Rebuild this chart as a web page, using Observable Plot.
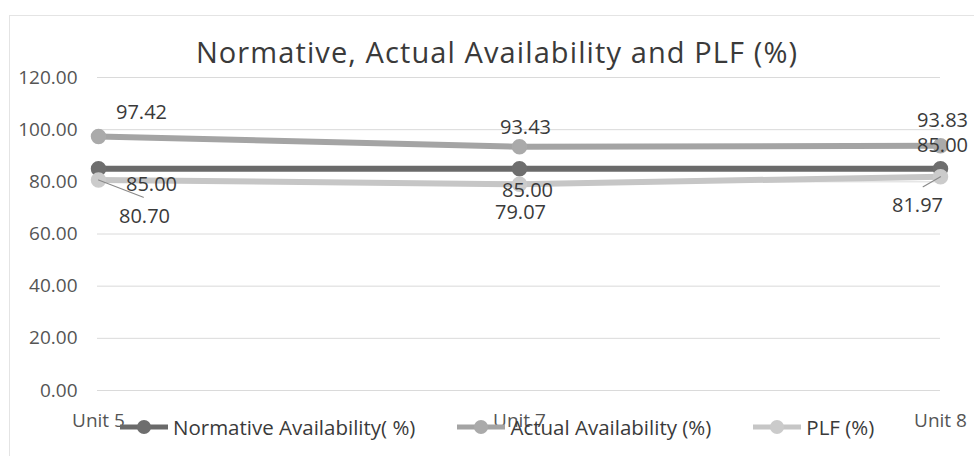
<!DOCTYPE html>
<html>
<head>
<meta charset="utf-8">
<script src="https://cdn.jsdelivr.net/npm/d3@7"></script>
<script src="https://cdn.jsdelivr.net/npm/@observablehq/plot@0.6"></script>
<style>
  html, body { margin: 0; padding: 0; background: #fff; }
  #wrap { position: relative; width: 974px; height: 456px; overflow: hidden; background: #fff; font-family: "Open Sans", sans-serif; }
  #border { position: absolute; left: 9px; top: 15px; width: 980px; height: 460px; border-left: 1px solid #e4e4e4; border-top: 1px solid #e4e4e4; }
  #title { position: absolute; left: 0; width: 994px; top: 32px; text-align: center; font-size: 29px; letter-spacing: 1.1px; color: #3a3a3a; white-space: nowrap; line-height: normal; }
  #chart { position: absolute; left: 0; top: 0; }
  #legend { position: absolute; left: 118px; top: 413px; display: flex; gap: 40px; align-items: center; font-size: 20.5px; color: #3a3a3a; white-space: nowrap; }
  #legend .item { display: flex; align-items: center; gap: 3px; }
</style>
</head>
<body>
<div id="wrap">
  <div id="border"></div>
  <div id="chart"></div>
  <div id="title"></div>
  <div id="legend"></div>
</div>
<script>
// ---- data ----
const units = ["Unit 5", "Unit 7", "Unit 8"];
const normative = [85.00, 85.00, 85.00];
const actual = [97.42, 93.43, 93.83];
const plf = [80.70, 79.07, 81.97];
const seriesNames = ["Normative Availability( %)", "Actual Availability (%)", "PLF (%)"];
const yTicks = [0, 20, 40, 60, 80, 100, 120];
const titleText = "Normative, Actual Availability and PLF (%)";

// ---- styles (not data) ----
const colors = {"Normative Availability( %)": "#6a6a6a", "Actual Availability (%)": "#a4a4a4", "PLF (%)": "#c6c6c6"};
const dotColors = {"Normative Availability( %)": "#6e6e6e", "Actual Availability (%)": "#aaaaaa", "PLF (%)": "#cbcbcb"};
// label offsets [dx, dy] per series per unit
const labelOffsets = {
  "Normative Availability( %)": [[53, 16], [8, 22], [2, -23]],
  "Actual Availability (%)": [[43, -24], [6, -19], [2, -25]],
  "PLF (%)": [[46, 37], [1, 28], [-23, 29]]
};

const valuesBySeries = [normative, actual, plf];
const rows = [];
seriesNames.forEach((s, si) => {
  units.forEach((u, i) => rows.push({series: s, unit: u, value: valuesBySeries[si][i], idx: i}));
});

document.getElementById("title").textContent = titleText;

const marks = [
  Plot.gridY(yTicks, {stroke: "#dadada", strokeOpacity: 1, strokeWidth: 1}),
  Plot.axisY({ticks: yTicks, tickFormat: d3.format(".2f"), tickSize: 0, tickPadding: 20, fontSize: 19, fill: "#555", label: null}),
  Plot.axisX({tickSize: 0, tickPadding: 23, fontSize: 19, fill: "#555", label: null})
];
seriesNames.forEach(s => {
  const d = rows.filter(r => r.series === s);
  marks.push(Plot.line(d, {x: "unit", y: "value", stroke: colors[s], strokeWidth: 6, strokeLinecap: "round"}));
});
seriesNames.forEach(s => {
  const d = rows.filter(r => r.series === s);
  marks.push(Plot.dot(d, {x: "unit", y: "value", r: 7, fill: dotColors[s], stroke: dotColors[s]}));
});
// leader lines for PLF labels at Unit 5 and Unit 8
const leader = {draw(ctx, l) { ctx.moveTo(0, 0); ctx.lineTo(0, -l); }};
const plfRows = rows.filter(r => r.series === "PLF (%)");
marks.push(Plot.vector([plfRows[0]], {x: "unit", y: "value", length: 48, rotate: 111, anchor: "start", shape: leader, stroke: "#8a8a8a", strokeWidth: 1.2}));
marks.push(Plot.vector([plfRows[2]], {x: "unit", y: "value", length: 20, rotate: 240, anchor: "start", shape: leader, stroke: "#8a8a8a", strokeWidth: 1.2}));
// data labels
rows.forEach(r => {
  const [dx, dy] = labelOffsets[r.series][r.idx];
  marks.push(Plot.text([r], {x: "unit", y: "value", text: d => d3.format(".2f")(d.value), dx, dy, fontSize: 20, fill: "#3a3a3a"}));
});

const chart = Plot.plot({
  width: 974,
  height: 456,
  marginLeft: 97,
  marginRight: 34,
  marginTop: 77,
  marginBottom: 66,
  style: {fontFamily: "Open Sans, sans-serif", background: "transparent", color: "#555"},
  x: {type: "point", domain: units, padding: 0},
  y: {domain: [0, 120]},
  marks
});
document.getElementById("chart").appendChild(chart);

// legend
const legend = document.getElementById("legend");
seriesNames.forEach(s => {
  const item = document.createElement("div");
  item.className = "item";
  const ns = "http://www.w3.org/2000/svg";
  const sw = document.createElementNS(ns, "svg");
  sw.setAttribute("width", 52); sw.setAttribute("height", 16);
  const ln = document.createElementNS(ns, "line");
  ln.setAttribute("x1", 2); ln.setAttribute("x2", 50); ln.setAttribute("y1", 8); ln.setAttribute("y2", 8);
  ln.setAttribute("stroke", colors[s]); ln.setAttribute("stroke-width", 5);
  const c = document.createElementNS(ns, "circle");
  c.setAttribute("cx", 26); c.setAttribute("cy", 8); c.setAttribute("r", 7); c.setAttribute("fill", dotColors[s]);
  sw.appendChild(ln); sw.appendChild(c);
  const t = document.createElement("span");
  t.textContent = s;
  item.appendChild(sw); item.appendChild(t);
  legend.appendChild(item);
});
</script>
</body>
</html>
